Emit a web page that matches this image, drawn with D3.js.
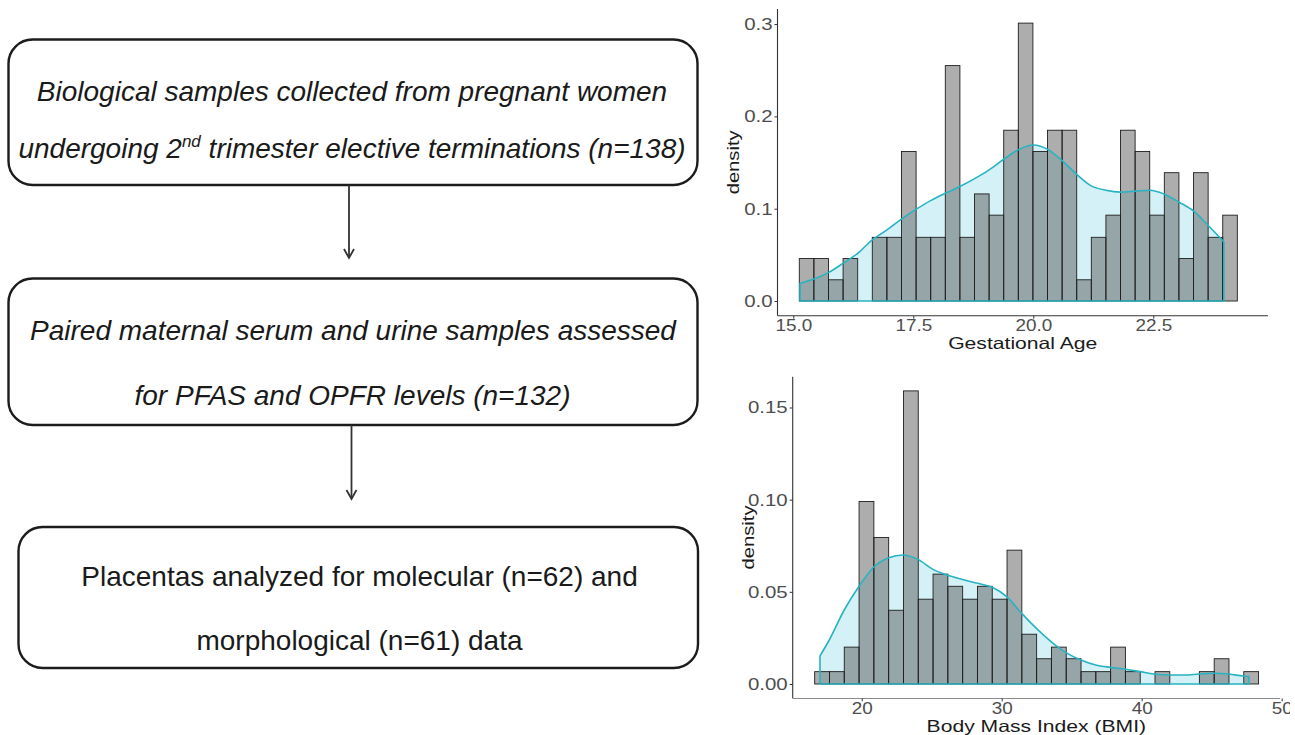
<!DOCTYPE html>
<html><head><meta charset="utf-8">
<script src="https://cdn.jsdelivr.net/npm/d3@7"></script>
<style>body{margin:0;background:#fff}svg{display:block}</style>
</head><body><svg id="c" width="1295" height="735"></svg>
<script>
// ---------------- data ----------------
const box1Line1 = "Biological samples collected from pregnant women";
const box1Line2 = ["undergoing 2", "nd", " trimester elective terminations (n=138)"];
const box2Lines = ["Paired maternal serum and urine samples assessed", "for PFAS and OPFR levels (n=132)"];
const box3Lines = ["Placentas analyzed for molecular (n=62) and", "morphological (n=61) data"];

// Gestational age histogram (density per bin) and density curve
const gaXTicks = [15.0, 17.5, 20.0, 22.5];
const gaYTicks = [0.0, 0.1, 0.2, 0.3];
const gaBinStart = 15.125, gaBinWidth = 0.3042;
const gaHist = [0.046,0.046,0.023,0.046,0,0.069,0.069,0.162,0.069,0.069,0.255,0.069,0.116,0.093,0.185,
                0.301,0.162,0.185,0.185,0.023,0.069,0.093,0.185,0.162,0.093,0.139,0.046,0.139,0.069,0.093];
const gaDensX = [15.14,15.44,15.74,16.04,16.35,16.64,16.95,17.26,17.58,17.87,18.18,18.47,18.76,19.08,19.37,
                 19.69,20.0,20.31,20.60,20.91,21.20,21.51,21.82,22.12,22.43,22.72,23.04,23.35,23.64,23.97];
const gaDensY = [0.019,0.024,0.031,0.041,0.052,0.066,0.077,0.089,0.100,0.109,0.117,0.124,0.132,0.142,0.153,
                 0.164,0.169,0.164,0.152,0.137,0.125,0.120,0.118,0.119,0.120,0.116,0.107,0.097,0.082,0.064];

// BMI histogram and density curve
const bmiXTicks = [20, 30, 40, 50];
const bmiYTicks = [0.00, 0.05, 0.10, 0.15];
const bmiBinStart = 16.64, bmiBinWidth = 1.057;
const bmiHist = [0.0067,0.0067,0.020,0.099,0.0795,0.040,0.159,0.046,0.0596,0.053,0.046,0.053,0.046,0.0726,0.027,
                 0.0137,0.020,0.0137,0.0067,0.0067,0.020,0.0067,0,0.0067,0,0,0.0067,0.0137,0,0.0067];
const bmiDensX = [17.02,17.69,18.74,19.81,20.88,21.93,22.95,24.02,25.09,26.16,27.21,28.29,29.36,30.38,31.43,
                  32.5,33.52,34.59,35.66,36.71,37.79,38.86,39.88,40.88,42.02,43.02,44.09,45.16,46.24,47.24,47.66];
const bmiDensY = [0.0152,0.024,0.040,0.053,0.0636,0.0685,0.070,0.0676,0.0622,0.059,0.0567,0.0546,0.0524,0.0473,0.0383,
                  0.030,0.023,0.017,0.013,0.0103,0.009,0.008,0.0067,0.0054,0.0049,0.0049,0.0054,0.0058,0.0054,0.0043,0.004];

// ---------------- drawing ----------------
const svg = d3.select("#c");
const FONT = "'Liberation Sans', Arial, Helvetica, sans-serif";

function stretch(sel, k) {
  sel.each(function () {
    const w = this.getComputedTextLength();
    this.setAttribute("textLength", w * k);
    this.setAttribute("lengthAdjust", "spacingAndGlyphs");
  });
}

// ---- flowchart ----
const boxes = [
  {x: 8.5, y: 39.5, w: 689, h: 145.5},
  {x: 8.5, y: 278.5, w: 689, h: 146.5},
  {x: 18.5, y: 527, w: 679.5, h: 141}
];
svg.selectAll("rect.box").data(boxes).join("rect").attr("class", "box")
  .attr("x", d => d.x).attr("y", d => d.y).attr("width", d => d.w).attr("height", d => d.h)
  .attr("rx", 24).attr("ry", 24)
  .attr("fill", "#fff").attr("stroke", "#1c1c1c").attr("stroke-width", 2.4);

const txt = (x, y, italic) => svg.append("text").attr("x", x).attr("y", y)
  .attr("text-anchor", "middle").attr("font-family", FONT).attr("font-size", 28)
  .attr("font-style", italic ? "italic" : "normal").attr("fill", "#1a1a1a");

txt(352, 101, true).text(box1Line1);
const t2 = txt(352, 158, true);
t2.append("tspan").text(box1Line2[0]);
t2.append("tspan").attr("font-size", 17).attr("dy", -11).text(box1Line2[1]);
t2.append("tspan").attr("dy", 11).text(box1Line2[2]);
txt(353, 340, true).text(box2Lines[0]);
txt(352.5, 405, true).text(box2Lines[1]);
txt(359.5, 586, false).text(box3Lines[0]);
txt(359.5, 650, false).text(box3Lines[1]);

const arrows = [{x: 349, y1: 185, y2: 258}, {x: 351.5, y1: 425, y2: 499}];
arrows.forEach(a => {
  svg.append("line").attr("x1", a.x).attr("x2", a.x).attr("y1", a.y1).attr("y2", a.y2)
    .attr("stroke", "#333").attr("stroke-width", 1.8);
  svg.append("path").attr("d", `M${a.x - 5},${a.y2 - 9} L${a.x},${a.y2} L${a.x + 5},${a.y2 - 9}`)
    .attr("fill", "none").attr("stroke", "#333").attr("stroke-width", 1.8);
});

// ---- histogram panels ----
function panel(cfg) {
  const x = d3.scaleLinear().domain(cfg.xDomain).range([cfg.left, cfg.right]);
  const y = d3.scaleLinear().domain(cfg.yDomain).range([cfg.bottom, cfg.top]);
  const g = svg.append("g");

  const pts = cfg.densX.map((v, i) => ({x: v, y: cfg.densY[i]}));
  const area = d3.area().x(d => x(d.x)).y0(y(0)).y1(d => y(d.y)).curve(d3.curveMonotoneX);
  g.append("path").attr("d", area(pts)).attr("fill", "#d3f1f6").attr("stroke", "none");

  const bins = cfg.hist.map((v, i) => ({x0: cfg.binStart + i * cfg.binWidth, x1: cfg.binStart + (i + 1) * cfg.binWidth, v}));
  g.selectAll("rect.bar").data(bins).join("rect").attr("class", "bar")
    .attr("x", d => x(d.x0)).attr("width", d => x(d.x1) - x(d.x0))
    .attr("y", d => y(d.v)).attr("height", d => y(0) - y(d.v))
    .attr("fill", "rgba(77,77,77,0.46)").attr("stroke", "#1e1e1e").attr("stroke-width", 0.9);

  g.append("path").attr("d", area(pts)).attr("fill", "none").attr("stroke", "#27b3c1").attr("stroke-width", 1.6);

  // axes
  const ax = g.append("g").attr("transform", `translate(0,${cfg.bottom})`)
    .call(d3.axisBottom(x).tickValues(cfg.xTicks).tickFormat(d3.format(cfg.xFmt)).tickSize(3).tickPadding(2));
  const ay = g.append("g").attr("transform", `translate(${cfg.left},0)`)
    .call(d3.axisLeft(y).tickValues(cfg.yTicks).tickFormat(d3.format(cfg.yFmt)).tickSize(3).tickPadding(2));
  [ax, ay].forEach(a => {
    a.select(".domain").attr("stroke", "#333").attr("stroke-width", 1.1).attr("d",
      a === ax ? `M${cfg.left},0H${cfg.right}` : `M0,${cfg.top}V${cfg.bottom}`);
    a.selectAll(".tick line").attr("stroke", "#333");
    a.selectAll(".tick text").attr("font-family", FONT).attr("fill", "#4d4d4d");
  });
  ay.selectAll(".tick text").attr("font-size", 17);
  ax.selectAll(".tick text").attr("font-size", 16).attr("dy", "0.66em");
  stretch(ax.selectAll(".tick text"), 1.18);
  stretch(ay.selectAll(".tick text"), 1.2);
  if (cfg.clipX) {
    const id = "clip" + Math.round(cfg.top);
    svg.append("clipPath").attr("id", id).append("rect").attr("x", 0).attr("y", 0).attr("width", cfg.clipX).attr("height", 735);
    ax.attr("clip-path", `url(#${id})`);
  }

  const xt = g.append("text").attr("x", (cfg.left + cfg.right) / 2).attr("y", cfg.bottom + 33.5)
    .attr("text-anchor", "middle").attr("font-family", FONT).attr("font-size", 16.5).attr("fill", "#1a1a1a").text(cfg.xTitle);
  stretch(xt, 1.28);
  const yt = g.append("text").attr("transform", `translate(${cfg.left - 44},${(cfg.top + cfg.bottom) / 2}) rotate(-90)`)
    .attr("text-anchor", "middle").attr("dy", "0.35em").attr("font-family", FONT).attr("font-size", 16).attr("fill", "#1a1a1a").text("density");
  yt.attr("textLength", 64).attr("lengthAdjust", "spacingAndGlyphs");
}

panel({
  left: 777.5, right: 1268, top: 9, bottom: 315.7,
  xDomain: [14.671, 24.89], yDomain: [-0.0159, 0.3163],
  hist: gaHist, binStart: gaBinStart, binWidth: gaBinWidth,
  densX: gaDensX, densY: gaDensY,
  xTicks: gaXTicks, yTicks: gaYTicks, xFmt: ".1f", yFmt: ".1f",
  xTitle: "Gestational Age"
});
panel({
  left: 792.7, right: 1280, top: 376.7, bottom: 698.3,
  xDomain: [15.07, 49.88], yDomain: [-0.00776, 0.1667],
  hist: bmiHist, binStart: bmiBinStart, binWidth: bmiBinWidth,
  densX: bmiDensX, densY: bmiDensY,
  xTicks: bmiXTicks, yTicks: bmiYTicks, xFmt: "d", yFmt: ".2f",
  xTitle: "Body Mass Index (BMI)", clipX: 1290
});
</script></body></html>
